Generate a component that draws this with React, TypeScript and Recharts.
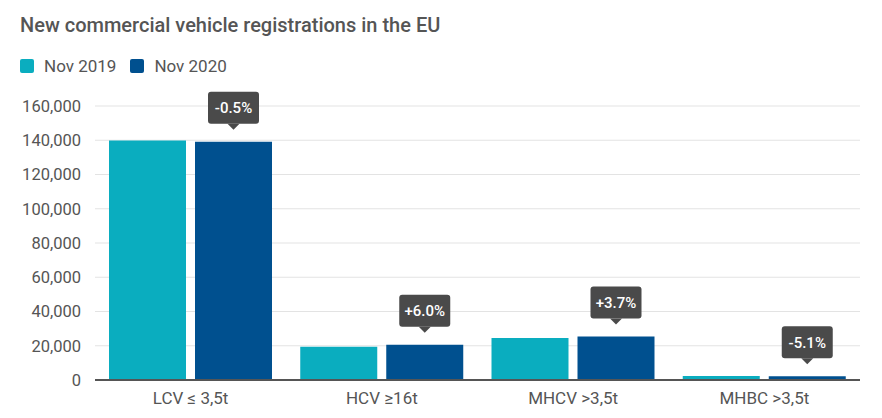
import React from "react";
import { BarChart, Bar, XAxis, YAxis, CartesianGrid, LabelList } from "recharts";

const categories = ["LCV ≤ 3,5t", "HCV ≥16t", "MHCV >3,5t", "MHBC >3,5t"];
const nov2019 = [139800, 19400, 24500, 2350];
const nov2020 = [139100, 20560, 25400, 2230];
const changes = ["-0.5%", "+6.0%", "+3.7%", "-5.1%"];
const yTicks = [0, 20000, 40000, 60000, 80000, 100000, 120000, 140000, 160000];

const data = categories.map((c, i) => ({ name: c, y2019: nov2019[i], y2020: nov2020[i], change: changes[i] }));

const FONT = "Roboto, 'Noto Sans', sans-serif";
const TEAL = "#0aadbf";
const NAVY = "#00508f";

const Bubble = (props: any) => {
  const { x, y, width, value } = props;
  const cx = x + width / 2;
  const w = 51;
  const h = 32;
  const tip = y - 12;
  const bottom = tip - 6;
  const top = bottom - h;
  return (
    <g>
      <rect x={cx - w / 2} y={top} width={w} height={h} rx={3} ry={3} fill="#4a4a4a" />
      <path d={`M${cx - 6},${bottom} L${cx},${tip} L${cx + 6},${bottom} Z`} fill="#4a4a4a" />
      <text x={cx} y={top + h / 2 + 5.5} textAnchor="middle" fill="#fff" fontFamily={FONT} fontWeight={500} fontSize={15}>
        {value}
      </text>
    </g>
  );
};

export default function App() {
  return (
    <div style={{ position: "fixed", left: 0, top: 0, width: 882, height: 418, background: "#fff" }}>
      <div style={{ position: "absolute", left: 20, top: 13, fontFamily: FONT, fontWeight: 500, fontSize: 20, color: "#555", whiteSpace: "nowrap" }}>
        New commercial vehicle registrations in the EU
      </div>
      <div style={{ position: "absolute", left: 20, top: 55, height: 22, display: "flex", alignItems: "center", fontFamily: FONT, fontSize: 17, color: "#555" }}>
        <span style={{ width: 14, height: 14, background: TEAL, borderRadius: 2, display: "inline-block", marginRight: 10 }} />
        <span style={{ marginRight: 14 }}>Nov 2019</span>
        <span style={{ width: 14, height: 14, background: NAVY, borderRadius: 2, display: "inline-block", marginRight: 10 }} />
        <span>Nov 2020</span>
      </div>
      <div style={{ position: "absolute", left: 0, top: 0 }}>
        <BarChart
          width={882}
          height={418}
          data={data}
          margin={{ top: 106, right: 22, bottom: 8, left: 0 }}
          barCategoryGap={14}
          barGap={9}
        >
          <CartesianGrid vertical={false} stroke="#e3e3e3" />
          <XAxis
            dataKey="name"
            tickLine={false}
            axisLine={{ stroke: "#555", strokeWidth: 2 }}
            tick={{ fill: "#555", fontSize: 17, fontFamily: FONT }}
            tickMargin={6}
            height={30}
          />
          <YAxis
            width={95}
            domain={[0, 160000]}
            ticks={yTicks}
            tickFormatter={(v: number) => v.toLocaleString("en-US")}
            axisLine={false}
            tickLine={false}
            tick={{ fill: "#555", fontSize: 16.5, fontFamily: FONT }}
            tickMargin={8}
          />
          <Bar dataKey="y2019" fill={TEAL} isAnimationActive={false} />
          <Bar dataKey="y2020" fill={NAVY} isAnimationActive={false}>
            <LabelList dataKey="change" content={<Bubble />} />
          </Bar>
        </BarChart>
      </div>
    </div>
  );
}
